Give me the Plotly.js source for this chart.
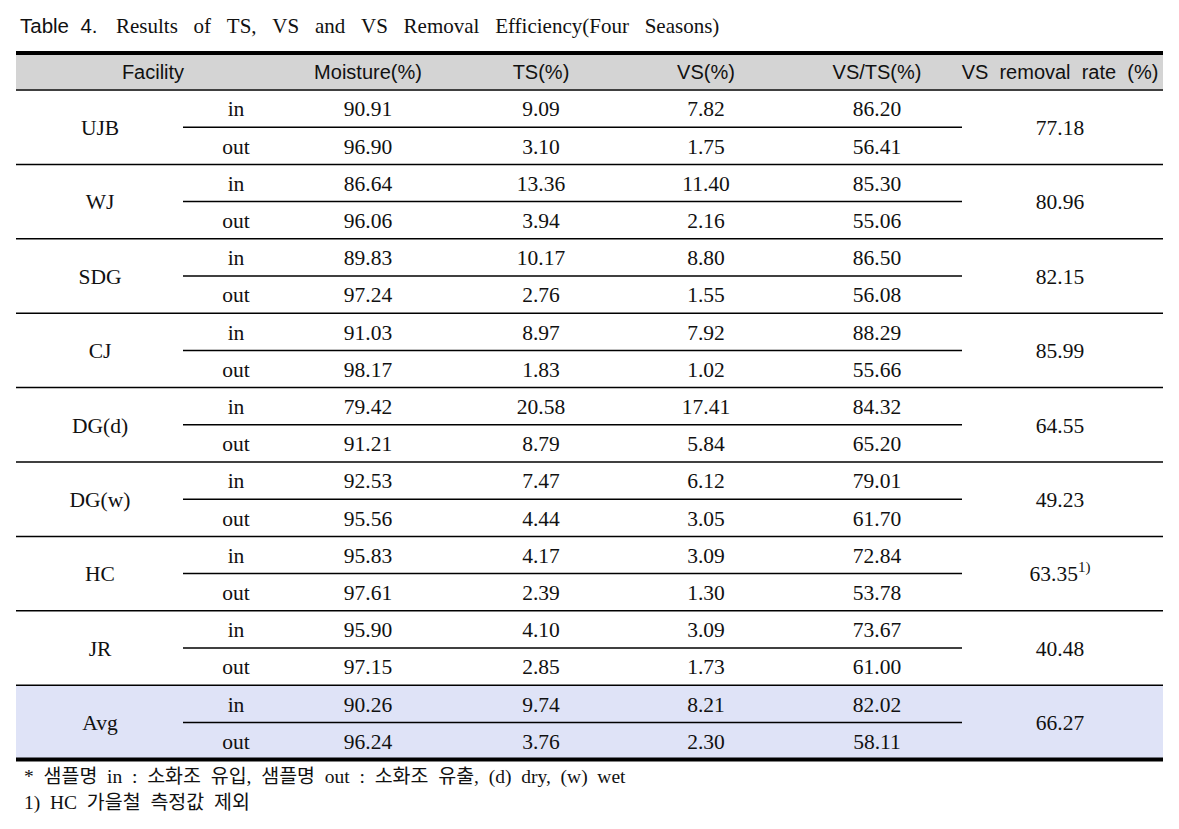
<!DOCTYPE html>
<html>
<head>
<meta charset="utf-8">
<script src="https://cdn.plot.ly/plotly-3.0.1.min.js"></script>
<style>html, body { margin: 0; padding: 0; background: #fff; }</style>
</head>
<body>
<div id="plot" style="width:1179px;height:829px;"></div>
<script>
// table values (in / out per facility)
const facilities = ['UJB', 'WJ', 'SDG', 'CJ', 'DG(d)', 'DG(w)', 'HC', 'JR', 'Avg'];
const sampleTypes = ['in', 'out'];
const headers = ['Facility', 'Moisture(%)', 'TS(%)', 'VS(%)', 'VS/TS(%)', 'VS  removal  rate  (%)'];

const moistureIn  = [90.91, 86.64, 89.83, 91.03, 79.42, 92.53, 95.83, 95.90, 90.26];
const moistureOut = [96.90, 96.06, 97.24, 98.17, 91.21, 95.56, 97.61, 97.15, 96.24];
const tsIn  = [9.09, 13.36, 10.17, 8.97, 20.58, 7.47, 4.17, 4.10, 9.74];
const tsOut = [3.10, 3.94, 2.76, 1.83, 8.79, 4.44, 2.39, 2.85, 3.76];
const vsIn  = [7.82, 11.40, 8.80, 7.92, 17.41, 6.12, 3.09, 3.09, 8.21];
const vsOut = [1.75, 2.16, 1.55, 1.02, 5.84, 3.05, 1.30, 1.73, 2.30];
const vstsIn  = [86.20, 85.30, 86.50, 88.29, 84.32, 79.01, 72.84, 73.67, 82.02];
const vstsOut = [56.41, 55.06, 56.08, 55.66, 65.20, 61.70, 53.78, 61.00, 58.11];
const removalRate = [77.18, 80.96, 82.15, 85.99, 64.55, 49.23, 63.35, 40.48, 66.27];
const removalNote = ['', '', '', '', '', '', '1)', '', ''];

const titleLabel = 'Table\u00a0\u00a04.';
const titleText = 'Results of TS, VS and VS Removal Efficiency(Four Seasons)';
const footnotes = [
    '*  샘플명  in  :  소화조  유입,  샘플명  out  :  소화조  유출,  (d)  dry,  (w)  wet',
    '1)  HC  가을철  측정값  제외'
];

// geometry (pixel-like units on hidden axes)
const W = 1179, H = 829;
const left = 16, right = 1163;
const headTop = 55, headBottom = 90;
const blockH = 74.4;
const textShift = 2.5;
const colX = [100, 236, 368, 541, 706, 877, 1060];
const serif = 'Liberation Serif, Times New Roman, serif';
const sans = 'Liberation Sans, Arial, sans-serif';
const fmt = v => v.toFixed(2);
const spread = s => s.split(' ').join('\u00a0\u00a0\u00a0');

function blockTop(i) { return headBottom + i * blockH; }

const facY = facilities.map((f, i) => blockTop(i) + blockH / 2 + textShift);
const inY = facilities.map((f, i) => blockTop(i) + blockH / 4 + textShift);
const outY = facilities.map((f, i) => blockTop(i) + blockH * 3 / 4 + textShift);
const rowY = inY.concat(outY);

function textTrace(xs, ys, texts, font) {
    return {
        x: Array.isArray(xs) ? xs : ys.map(() => xs), y: ys, text: texts,
        type: 'scatter', mode: 'text', textposition: 'middle center',
        textfont: font, hoverinfo: 'none', cliponaxis: false
    };
}

const bodyFont = {family: serif, size: 21.5, color: '#111'};
const headFont = {family: sans, size: 20, color: '#111'};

const data = [
    textTrace(colX[0], facY, facilities, bodyFont),
    textTrace(colX[1], rowY, facilities.map(() => sampleTypes[0]).concat(facilities.map(() => sampleTypes[1])), bodyFont),
    textTrace(colX[2], rowY, moistureIn.concat(moistureOut).map(fmt), bodyFont),
    textTrace(colX[3], rowY, tsIn.concat(tsOut).map(fmt), bodyFont),
    textTrace(colX[4], rowY, vsIn.concat(vsOut).map(fmt), bodyFont),
    textTrace(colX[5], rowY, vstsIn.concat(vstsOut).map(fmt), bodyFont),
    textTrace(colX[6], facY, removalRate.map((v, i) => fmt(v) + (removalNote[i] ? '<sup>' + removalNote[i] + '</sup>' : '')), bodyFont),
    textTrace([153, colX[2], colX[3], colX[4], colX[5], colX[6]], headers.map(() => (headTop + headBottom) / 2 + 1), headers, headFont)
];

const shapes = [];
const hline = (y, x0, x1, w) => shapes.push({type: 'line', xref: 'x', yref: 'y', x0: x0, x1: x1, y0: y, y1: y, line: {color: '#000', width: w}});

// header band and Avg band
const last = facilities.length - 1;
shapes.push({type: 'rect', xref: 'x', yref: 'y', x0: left, x1: right, y0: headTop, y1: headBottom - 1, fillcolor: '#d4d4d4', line: {width: 0}, layer: 'below'});
shapes.push({type: 'rect', xref: 'x', yref: 'y', x0: left, x1: right, y0: blockTop(last), y1: blockTop(last + 1), fillcolor: '#dfe3f7', line: {width: 0}, layer: 'below'});

hline(53, left, right, 4);
hline(headBottom, left, right, 1.5);
facilities.forEach((f, i) => {
    hline(blockTop(i) + blockH / 2, 183, 962, 1.5);
    if (i < last) hline(blockTop(i + 1), left, right, 1.5);
});
hline(blockTop(last + 1), left, right, 4);

const note = (text, x, y, font) => ({text: text, x: x, y: y, xref: 'x', yref: 'y', xanchor: 'left', yanchor: 'middle', showarrow: false, font: font});
const annotations = [
    note(titleLabel, 18, 25, {family: sans, size: 20.5, color: '#111'}),
    note(spread(titleText), 114, 26, {family: serif, size: 21, color: '#111'}),
    note(footnotes[0], 22, 777, {family: serif + ', Noto Sans CJK KR', size: 19.5, color: '#111'}),
    note(footnotes[1], 22, 803, {family: serif + ', Noto Sans CJK KR', size: 19.5, color: '#111'})
];

const layout = {
    width: W, height: H,
    margin: {l: 0, r: 0, t: 0, b: 0},
    paper_bgcolor: '#fff', plot_bgcolor: '#fff',
    showlegend: false,
    xaxis: {range: [0, W], visible: false, fixedrange: true},
    yaxis: {range: [H, 0], visible: false, fixedrange: true},
    shapes: shapes,
    annotations: annotations
};

Plotly.newPlot('plot', data, layout, {displayModeBar: false, staticPlot: true});
</script>
</body>
</html>
